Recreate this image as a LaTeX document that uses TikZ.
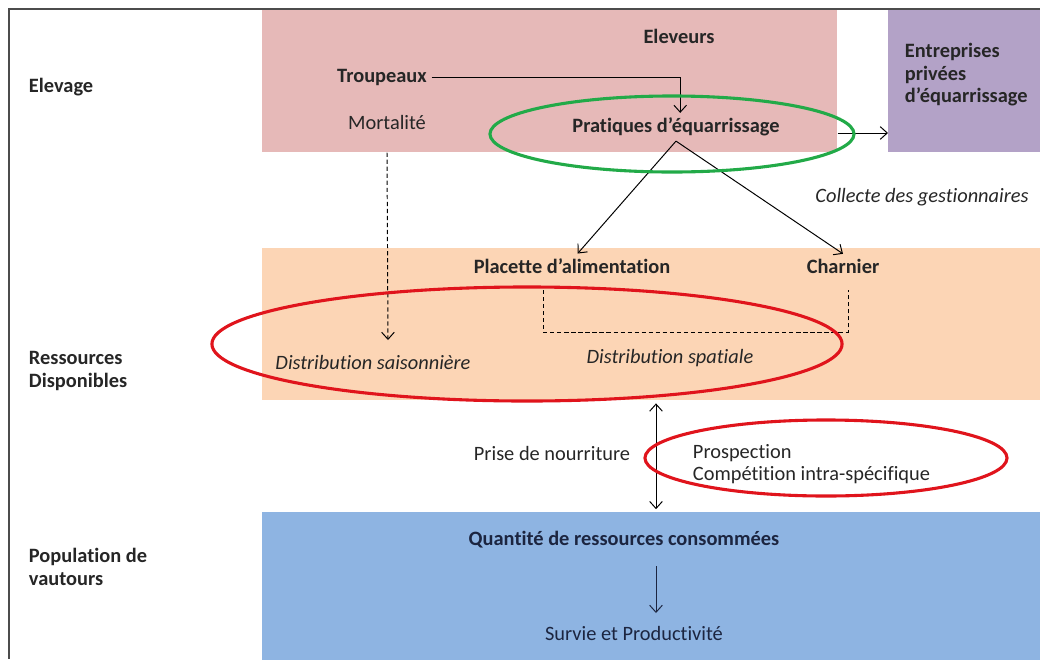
\documentclass[tikz,border=0pt]{standalone}
\usepackage{fontspec}
\setmainfont{Carlito}[Ligatures=NoCommon]
\usepackage{tikz}
\usetikzlibrary{positioning, arrows.meta}

\definecolor{elevpink}{HTML}{E6B9B8}
\definecolor{entrpurple}{HTML}{B3A2C7}
\definecolor{resorange}{HTML}{FCD5B5}
\definecolor{popblue}{HTML}{8EB4E2}
\definecolor{ringgreen}{HTML}{22AA48}
\definecolor{ringred}{HTML}{E0141C}
\definecolor{inkdark}{HTML}{262626}
\definecolor{inknavy}{HTML}{1C2540}

\begin{document}
\begin{tikzpicture}[x=0.025cm, y=-0.025cm, font=\fontsize{14.5}{16}\selectfont, text=inkdark]
\tikzstyle{band} = [rectangle, anchor=north west, inner sep=0pt, draw=none]
\tikzstyle{rowname} = [anchor=west, align=left, font=\fontsize{14.5}{16}\selectfont\bfseries]
\tikzstyle{titre} = [font=\fontsize{14.5}{16}\selectfont\bfseries]
\tikzstyle{note} = [font=\fontsize{14.5}{16}\selectfont\itshape]
\tikzstyle{arrow} = [line width=0.7pt, ->, >={Straight Barb[length=5pt, width=9pt]}]
\tikzstyle{dasharrow} = [arrow, dash pattern=on 3pt off 2pt]
\tikzstyle{ring} = [line width=2.2pt]

\useasboundingbox (0,0) rectangle (1040,659);

% bands
\node (elevbox) [band, fill=elevpink, minimum width=14.375cm, minimum height=3.55cm] at (262,10) {};
\node (entrbox) [band, fill=entrpurple, minimum width=3.8cm, minimum height=3.55cm] at (888,10) {};
\node (resbox) [band, fill=resorange, minimum width=19.45cm, minimum height=3.8cm] at (262,248) {};
\node (popbox) [band, fill=popblue, minimum width=19.45cm, minimum height=3.7cm] at (262,512) {};

% frame
\draw [line width=1.4pt, draw=black!70] (1040,9) -- (9,9) -- (9,659);

% row names
\node (elevage) [rowname] at (24,87) {Elevage};
\node (ressources) [rowname] at (24,371) {Ressources\\Disponibles};
\node (population) [rowname] at (24,567) {Population de\\vautours};

% Elevage
\node (eleveurs) [titre] at (679,36) {Eleveurs};
\node (troup) [titre] at (382,77) {Troupeaux};
\node (mort) at (387,122) {Mortalité};
\node (prat) [titre] at (676,127) {Pratiques d’équarrissage};
\node (entr) [titre, anchor=west, align=left] at (900,75) {Entreprises\\privées\\d’équarrissage};
\node (collecte) [note] at (922,197) {Collecte des gestionnaires};

% Ressources
\node (plac) [titre] at (572,266) {Placette d’alimentation};
\node (charn) [titre] at (843,266) {Charnier};
\node (saison) [note] at (373,362) {Distribution saisonnière};
\node (spatial) [note] at (670,358) {Distribution spatiale};
\coordinate (saisontop) at (388,340);
\coordinate (bracketl) at (543,290);
\coordinate (bracketr) at (848,290);

% between
\node (prise) at (552,453) {Prise de nourriture};
\node (prosp) [anchor=west, align=left] at (688,464) {Prospection\\Compétition intra-spécifique};
\coordinate (axis) at (656,0);

% Population
\node (quant) [titre, text=inknavy] at (624,540) {Quantité de ressources consommées};
\node (surv) [text=inknavy] at (634,633) {Survie et Productivité};
\coordinate (q1) at (656,566);
\coordinate (q2) at (656,613);

% connectors
\draw [arrow] (troup.east) -| ([xshift=3pt]prat.north);
\draw [arrow] (elevbox.east |- 0,133) -- (entrbox.west |- 0,133);
\draw [arrow] (prat.south) -- ([xshift=4pt]plac.north);
\draw [arrow] (prat.south) -- (charn.north);
\draw [dasharrow] (mort.south |- elevbox.south) -- (saisontop);
\draw [line width=0.7pt, dash pattern=on 3pt off 2pt] (bracketl) |- (bracketr |- 0,332) -- (bracketr);
\draw [arrow, <->] ([yshift=-2pt]resbox.south -| axis) -- ([yshift=2pt]popbox.north -| axis);
\draw [arrow, draw=inknavy] (q1) -- (q2);

% rings
\draw [ring, draw=ringgreen] (672,134) ellipse [x radius=4.55cm, y radius=0.95cm];
\draw [ring, draw=ringred] (527,344) ellipse [x radius=7.875cm, y radius=1.425cm];
\draw [ring, draw=ringred] (826,458) ellipse [x radius=4.525cm, y radius=0.95cm];
\end{tikzpicture}
\end{document}
